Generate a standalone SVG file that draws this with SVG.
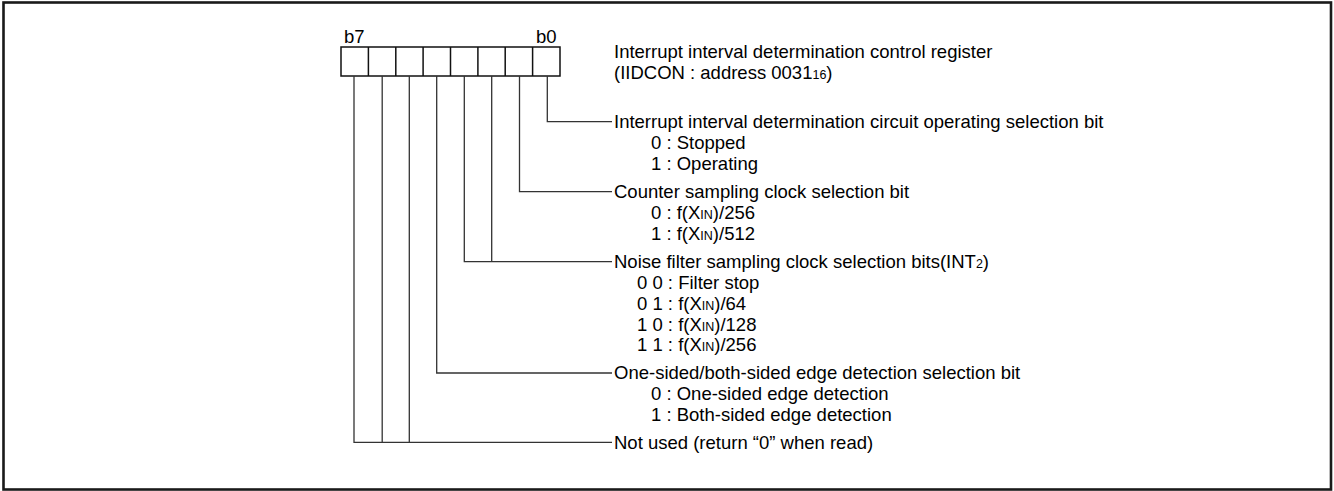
<svg xmlns="http://www.w3.org/2000/svg" width="1334" height="491" viewBox="0 0 1334 491">
<style>
.t{font-family:"Liberation Sans",Arial,sans-serif;font-size:18.5px;fill:#000}
.s{font-size:12.5px}
.c{stroke:#333;stroke-width:1.3;fill:none}
.box{stroke:#111;stroke-width:1.5;fill:#fff}
</style>
<rect x="3.5" y="2.5" width="1327.5" height="487" fill="#fff" stroke="#1a1a1a" stroke-width="2.6"/>
<g id="register">
<rect class="box" x="341" y="47" width="219" height="29"/>
<path class="c" style="stroke:#111;stroke-width:1.5" d="M368.4 47V76M395.8 47V76M423.1 47V76M450.5 47V76M477.9 47V76M505.2 47V76M532.6 47V76"/>
<text class="t" x="344" y="43">b7</text>
<text class="t" x="536" y="43">b0</text>
</g>
<g id="title">
<text class="t" x="614" y="58">Interrupt interval determination control register</text>
<text class="t" x="614" y="79">(IIDCON : address 0031<tspan class="s">16</tspan>)</text>
</g>
<g id="connectors">
<path class="c" d="M547.3 76V121.7H612"/>
<path class="c" d="M519.5 76V191.7H612"/>
<path class="c" d="M491.7 76V261.7M464.3 76V261.7H612"/>
<path class="c" d="M436.7 76V373H612"/>
<path class="c" d="M409.3 76V442.3M382.2 76V442.3M354 76V442.3H612"/>
</g>
<g id="bit0">
<text class="t" x="614" y="128">Interrupt interval determination circuit operating selection bit</text>
<text class="t" x="651" y="149">0 : Stopped</text>
<text class="t" x="651" y="170">1 : Operating</text>
</g>
<g id="bit1">
<text class="t" x="614" y="198">Counter sampling clock selection bit</text>
<text class="t" x="651" y="219">0 : f(X<tspan class="s">IN</tspan>)/256</text>
<text class="t" x="651" y="240">1 : f(X<tspan class="s">IN</tspan>)/512</text>
</g>
<g id="bit23">
<text class="t" x="614" y="268">Noise filter sampling clock selection bits(INT<tspan class="s">2</tspan>)</text>
<text class="t" x="637" y="289">0 0 : Filter stop</text>
<text class="t" x="637" y="310">0 1 : f(X<tspan class="s">IN</tspan>)/64</text>
<text class="t" x="637" y="331">1 0 : f(X<tspan class="s">IN</tspan>)/128</text>
<text class="t" x="637" y="351">1 1 : f(X<tspan class="s">IN</tspan>)/256</text>
</g>
<g id="bit4">
<text class="t" x="614" y="379">One-sided/both-sided edge detection selection bit</text>
<text class="t" x="651" y="400">0 : One-sided edge detection</text>
<text class="t" x="651" y="421">1 : Both-sided edge detection</text>
</g>
<g id="bit567">
<text class="t" x="614" y="448.5">Not used (return “0” when read)</text>
</g>
</svg>
